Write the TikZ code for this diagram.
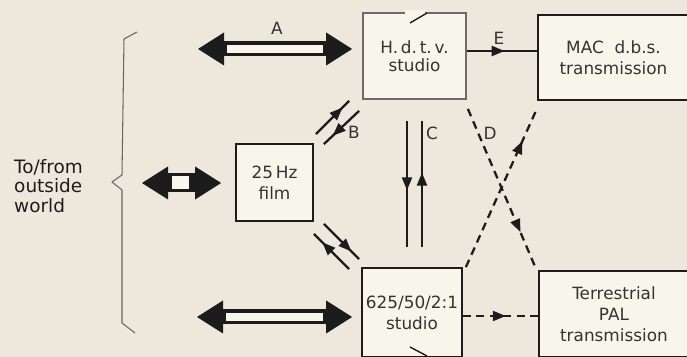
\documentclass[tikz,border=0pt]{standalone}
\usepackage{fontspec}
\setmainfont{DejaVu Sans}
\usetikzlibrary{arrows.meta,calc,decorations.markings}
\definecolor{paper}{HTML}{EDE8DB}
\definecolor{boxfill}{HTML}{F8F5EA}
\definecolor{ink}{HTML}{1C1C1C}

\tikzset{
  box/.style={draw=ink,fill=boxfill,line width=1pt,align=center,inner sep=0pt},
  conn/.style={draw=ink,line width=1.3pt},
  dashline/.style={conn,dash pattern=on 1.6mm off 1.1mm},
  midarrow/.style={postaction={decorate},decoration={markings,
    mark=at position #1 with {\arrow{Triangle[length=2.6mm,width=2mm]}}}},
  bigarrow/.style={draw=ink,line width=3mm,
    {Triangle[length=5.2mm,width=6.6mm,line width=0pt]}-{Triangle[length=5.2mm,width=6.6mm,line width=0pt]}},
  hollow/.style={draw=boxfill,line width=1.7mm},
  brace/.style={draw=gray!80!black,line width=0.6pt,line join=round}
}

\begin{document}
\begin{tikzpicture}[x=1cm,y=1cm,font=\fontsize{9.6}{12}\selectfont,text=ink!90]
  \useasboundingbox (0,0) rectangle (13.74,7.14);
  \fill[paper] (0,0) rectangle (13.74,7.14);

  \node[box,minimum width=2.06cm,minimum height=1.72cm,draw=ink!65,font=\fontsize{9.6}{10.4}\selectfont] (hdtv) at (8.29,6.02) {H.\,d.\,t.\,v.\\studio};
  \node[box,line width=1.4pt,minimum width=3.02cm,minimum height=1.70cm] (mac) at (12.27,5.99) {MAC\ \ d.b.s.\\transmission};
  \node[box,minimum width=1.54cm,minimum height=1.54cm] (film) at (5.49,3.49) {25\,Hz\\film};
  \node[box,minimum width=2.0cm,minimum height=1.78cm] (sd) at (8.24,0.89) {625/50/2:1\\studio};
  \node[box,minimum width=3.0cm,minimum height=1.72cm] (pal) at (12.28,0.86) {Terrestrial\\PAL\\transmission};

  \fill[boxfill] (8.1,6.83) rectangle (8.5,6.93);
  \draw[ink,line width=0.8pt] (8.2,6.68) -- (8.54,6.88);
  \draw[ink,line width=0.8pt] (8.2,0.2) -- (8.54,0.02);

  \node[anchor=west,align=left,text=ink,font=\fontsize{10.5}{11}\selectfont] (world) at (0.16,3.42) {To/from\\outside\\world};
  \draw[brace] (2.74,6.5) -- (2.48,6.36) -- (2.44,3.64) -- (2.24,3.5) -- (2.44,3.34) -- (2.44,0.68) -- (2.7,0.48);

  \coordinate (aL) at (3.96,6.16);
  \coordinate (aR) at ([xshift=-2mm]hdtv.west |- aL);
  \coordinate (mL) at (2.84,3.48);
  \coordinate (mR) at ([xshift=-2.8mm]film.west |- mL);
  \coordinate (cL) at (3.94,0.80);
  \coordinate (cR) at ([xshift=-1.8mm]sd.west |- cL);
  \draw[bigarrow] (aL) -- (aR);
  \draw[hollow] ($(aL)+(0.58,0)$) -- ($(aR)-(0.58,0)$);
  \draw[bigarrow,line width=3.8mm] (mL) -- (mR);
  \draw[hollow,line width=2.6mm] ($(mL)+(0.6,0)$) -- ($(mR)-(0.64,0)$);
  \draw[bigarrow] (cL) -- (cR);
  \draw[hollow] ($(cL)+(0.58,0)$) -- ($(cR)-(0.58,0)$);
  \node (lA) at (5.54,6.58) {A};

  \draw[conn,midarrow=0.54] ([yshift=1mm]hdtv.east) -- ([yshift=1mm]hdtv.east -| mac.west);
  \node (lE) at (9.98,6.38) {E};

  \draw[conn,midarrow=0.8] ([shift={(0.04,0.18)}]film.north east) -- ([shift={(-0.26,-0.02)}]hdtv.south west);
  \draw[conn,midarrow=0.75] ([shift={(-0.06,-0.22)}]hdtv.south west) -- ([shift={(0.2,-0.02)}]film.north east);
  \node (lB) at (7.08,4.5) {B};

  \draw[conn,midarrow=0.78] ([shift={(0.2,-0.04)}]film.south east) -- ([shift={(-0.04,0.16)}]sd.north west);
  \draw[conn,midarrow=0.76] ([shift={(-0.24,-0.04)}]sd.north west) -- ([shift={(0,-0.24)}]film.south east);

  \draw[conn,midarrow=0.55] ([shift={(-0.15,-0.42)}]hdtv.south) -- ([shift={(-0.15,0.4)}]hdtv.south |- sd.north);
  \draw[conn,midarrow=0.59] ([shift={(0.15,0.4)}]hdtv.south |- sd.north) -- ([shift={(0.15,-0.42)}]hdtv.south);
  \node (lC) at (8.64,4.48) {C};

  \draw[dashline,midarrow=0.77] ([shift={(0.02,-0.18)}]hdtv.south east) -- ([shift={(-0.04,0.02)}]pal.north west);
  \draw[dashline,midarrow=0.81] ([shift={(0.06,0)}]sd.north east) -- ([shift={(-0.02,-0.2)}]mac.south west);
  \node (lD) at (9.8,4.48) {D};

  \draw[dashline,midarrow=0.57] ([yshift=-0.7mm]sd.east) -- ([yshift=-0.7mm]sd.east -| pal.west);
\end{tikzpicture}
\end{document}
